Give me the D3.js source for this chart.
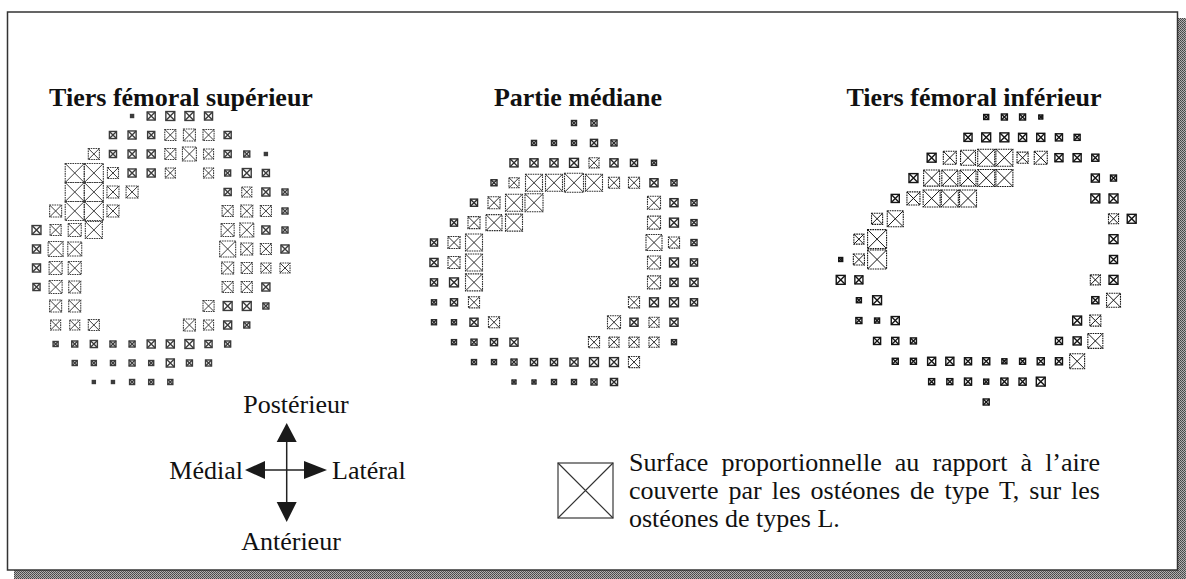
<!DOCTYPE html>
<html>
<head>
<meta charset="utf-8">
<script src="https://cdn.jsdelivr.net/npm/d3@7"></script>
<style>
  body { margin: 0; background: #fff; }
  svg { display: block; }
  text { font-family: "Liberation Serif", "Times New Roman", serif; fill: #111; }
</style>
</head>
<body>
<script>
var titles = ["Tiers fémoral supérieur", "Partie médiane", "Tiers fémoral inférieur"];

// [ligne, colonne, rapport aire T / aire L]
var superieur = [
  [0,5,.025],[0,6,.18],[0,7,.22],[0,8,.22],[0,9,.18],
  [1,4,.14],[1,5,.18],[1,6,.14],[1,7,.34],[1,8,.40],[1,9,.34],[1,10,.14],
  [2,3,.34],[2,4,.14],[2,5,.18],[2,6,.18],[2,7,.34],[2,8,.54],[2,9,.28],[2,10,.14],[2,11,.10],[2,12,.025],
  [3,2,1],[3,3,1],[3,4,.34],[3,5,.18],[3,6,.18],[3,7,.28],[3,9,.28],[3,10,.10],[3,11,.22],[3,12,.14],
  [4,2,1],[4,3,1],[4,4,.40],[4,5,.40],[4,10,.14],[4,11,.28],[4,12,.18],[4,13,.10],
  [5,1,.40],[5,2,1],[5,3,1],[5,4,.40],[5,10,.34],[5,11,.40],[5,12,.34],[5,13,.10],
  [6,0,.22],[6,1,.34],[6,2,.47],[6,3,.80],[6,10,.47],[6,11,.54],[6,12,.18],[6,13,.10],
  [7,0,.18],[7,1,.62],[7,2,.54],[7,10,.71],[7,11,.40],[7,12,.34],[7,13,.18],
  [8,0,.18],[8,1,.47],[8,2,.47],[8,10,.40],[8,11,.34],[8,12,.28],[8,13,.28],
  [9,0,.14],[9,1,.47],[9,2,.40],[9,10,.34],[9,11,.34],[9,12,.18],
  [10,1,.40],[10,2,.40],[10,9,.34],[10,10,.22],[10,11,.22],[10,12,.10],
  [11,1,.28],[11,2,.28],[11,3,.34],[11,8,.40],[11,9,.28],[11,10,.18],[11,11,.10],
  [12,1,.07],[12,2,.10],[12,3,.14],[12,4,.10],[12,5,.10],[12,6,.18],[12,7,.18],[12,8,.22],[12,9,.14],[12,10,.10],
  [13,2,.07],[13,3,.07],[13,4,.07],[13,5,.10],[13,6,.07],[13,7,.18],[13,8,.10],[13,9,.10],
  [14,3,.025],[14,4,.025],[14,5,.07],[14,6,.07],[14,7,.07]
];

var mediane = [
  [0,7,.07],[0,8,.10],
  [1,5,.07],[1,6,.07],[1,7,.07],[1,8,.14],[1,9,.10],
  [2,4,.18],[2,5,.18],[2,6,.18],[2,7,.22],[2,8,.28],[2,9,.18],[2,10,.14],[2,11,.07],
  [3,3,.10],[3,4,.28],[3,5,.80],[3,6,.80],[3,7,1],[3,8,.80],[3,9,.34],[3,10,.34],[3,11,.18],[3,12,.10],
  [4,2,.14],[4,3,.40],[4,4,.80],[4,5,.90],[4,11,.47],[4,12,.18],[4,13,.10],
  [5,1,.14],[5,2,.40],[5,3,.71],[5,4,.80],[5,11,.47],[5,12,.22],[5,13,.10],
  [6,0,.14],[6,1,.40],[6,2,.80],[6,11,.71],[6,12,.34],[6,13,.10],
  [7,0,.18],[7,1,.40],[7,2,.80],[7,11,.47],[7,12,.22],[7,13,.14],
  [8,0,.14],[8,1,.22],[8,2,.80],[8,11,.47],[8,12,.18],[8,13,.18],
  [9,0,.07],[9,1,.14],[9,2,.34],[9,10,.34],[9,11,.22],[9,12,.22],[9,13,.14],
  [10,0,.07],[10,1,.07],[10,2,.18],[10,3,.34],[10,9,.47],[10,10,.18],[10,11,.28],[10,12,.18],
  [11,1,.07],[11,2,.10],[11,3,.14],[11,4,.18],[11,8,.34],[11,9,.28],[11,10,.28],[11,11,.28],[11,12,.07],
  [12,2,.07],[12,3,.07],[12,4,.10],[12,5,.14],[12,6,.14],[12,7,.18],[12,8,.22],[12,9,.22],[12,10,.34],
  [13,4,.044],[13,5,.044],[13,6,.07],[13,7,.07],[13,8,.10],[13,9,.14]
];

var inferieur = [
  [0,8,.07],[0,9,.10],[0,10,.10],[0,11,.044],
  [1,7,.18],[1,8,.22],[1,9,.22],[1,10,.18],[1,11,.18],[1,12,.14],[1,13,.10],
  [2,5,.22],[2,6,.47],[2,7,.62],[2,8,.80],[2,9,.80],[2,10,.34],[2,11,.47],[2,12,.18],[2,13,.18],[2,14,.14],
  [3,4,.22],[3,5,.71],[3,6,.71],[3,7,.71],[3,8,.80],[3,9,.80],[3,14,.18],[3,15,.10],
  [4,3,.18],[4,4,.47],[4,5,.80],[4,6,.80],[4,7,.80],[4,14,.22],[4,15,.22],
  [5,2,.34],[5,3,.71],[5,15,.28],[5,16,.22],
  [6,1,.28],[6,2,1],[6,15,.22],
  [7,0,.044],[7,1,.34],[7,2,1],[7,15,.18],
  [8,0,.22],[8,1,.18],[8,14,.28],[8,15,.22],
  [9,1,.07],[9,2,.22],[9,14,.14],[9,15,.54],
  [10,1,.10],[10,2,.07],[10,3,.18],[10,13,.22],[10,14,.34],
  [11,2,.14],[11,3,.14],[11,4,.10],[11,12,.14],[11,13,.18],[11,14,.62],
  [12,3,.10],[12,4,.10],[12,5,.18],[12,6,.18],[12,7,.14],[12,8,.14],[12,9,.07],[12,10,.10],[12,11,.14],[12,12,.14],[12,13,.62],
  [13,5,.10],[13,6,.10],[13,7,.14],[13,8,.07],[13,9,.14],[13,10,.14],[13,11,.22],
  [14,8,.10]
];

var directions = ["Postérieur", "Médial", "Latéral", "Antérieur"];
var legendLines = [
  "Surface proportionnelle au rapport à l’aire",
  "couverte par les ostéones de type T, sur les",
  "ostéones de types L."
];

var width = 1186, height = 579;

var svg = d3.select("body").append("svg")
  .attr("width", width)
  .attr("height", height);

// trame grise de l'ombre du cadre
var pat = svg.append("defs").append("pattern")
  .attr("id", "trame").attr("width", 2).attr("height", 2)
  .attr("patternUnits", "userSpaceOnUse");
pat.append("rect").attr("width", 2).attr("height", 2).attr("fill", "#b0b0b0");
pat.append("rect").attr("width", 1).attr("height", 1).attr("fill", "#444");
pat.append("rect").attr("x", 1).attr("y", 1).attr("width", 1).attr("height", 1).attr("fill", "#555");

// cadre + ombre
svg.append("rect").attr("x", 14).attr("y", 570).attr("width", 1172).attr("height", 9).attr("fill", "url(#trame)");
svg.append("rect").attr("x", 1178).attr("y", 18).attr("width", 8).attr("height", 561).attr("fill", "url(#trame)");
svg.append("rect")
  .attr("x", 7.5).attr("y", 12).attr("width", 1170).attr("height", 558)
  .attr("fill", "#fff").attr("stroke", "#333").attr("stroke-width", 1.5);

// taille du carré : surface proportionnelle au rapport
var size = d3.scaleSqrt().domain([0, 1]).range([0, 19]);

var panels = [
  { data: superieur, cols: 13, rows: 14, x: [36.5, 285], y: [116, 382], tx: 181, color: "#3c3c3c" },
  { data: mediane,   cols: 13, rows: 13, x: [434, 694],  y: [123, 382], tx: 578, color: "#2c2c2c" },
  { data: inferieur, cols: 16, rows: 14, x: [840.7, 1131.7], y: [117, 402], tx: 974, color: "#151515" }
];

function drawCross(sel, s, color) {
  var h = s / 2;
  var small = s <= 9;
  sel.append("rect")
    .attr("x", -h).attr("y", -h).attr("width", s).attr("height", s)
    .attr("fill", "none").attr("stroke", color)
    .attr("stroke-width", small ? 1.4 : 1.1)
    .attr("stroke-dasharray", small ? null : "1.6,0.8");
  sel.append("path")
    .attr("d", "M" + (-h) + "," + (-h) + "L" + h + "," + h + "M" + h + "," + (-h) + "L" + (-h) + "," + h)
    .attr("stroke", color).attr("stroke-width", small ? 1.4 : 1);
}

panels.forEach(function(p, i) {
  var x = d3.scaleLinear().domain([0, p.cols]).range(p.x);
  var y = d3.scaleLinear().domain([0, p.rows]).range(p.y);
  var g = svg.append("g");

  g.append("text")
    .attr("x", p.tx).attr("y", 106)
    .attr("text-anchor", "middle")
    .attr("font-size", 26).attr("font-weight", "bold")
    .text(titles[i]);

  g.selectAll("g.cell")
    .data(p.data)
    .enter().append("g")
    .attr("class", "cell")
    .attr("transform", function(d) { return "translate(" + x(d[1]) + "," + y(d[0]) + ")"; })
    .each(function(d) { drawCross(d3.select(this), size(d[2]), p.color); });
});

// rose des directions
var cx = 286.7, cy = 470;
var compass = svg.append("g");
compass.append("line").attr("x1", cx).attr("x2", cx).attr("y1", 440).attr("y2", 503)
  .attr("stroke", "#222").attr("stroke-width", 1.5);
compass.append("line").attr("x1", 263).attr("x2", 305).attr("y1", cy).attr("y2", cy)
  .attr("stroke", "#222").attr("stroke-width", 1.5);
var heads = [
  [[cx, 423], [cx - 10, 442], [cx + 10, 442]],
  [[cx, 522], [cx - 10, 502], [cx + 10, 502]],
  [[245, cy], [265, cy - 9], [265, cy + 9]],
  [[327, cy], [304, cy - 9], [304, cy + 9]]
];
compass.selectAll("path")
  .data(heads)
  .enter().append("path")
  .attr("d", function(d) { return d3.line()(d) + "Z"; })
  .attr("fill", "#1a1a1a");

compass.append("text").attr("x", 296).attr("y", 413).attr("text-anchor", "middle")
  .attr("font-size", 26).text(directions[0]);
compass.append("text").attr("x", 243).attr("y", 479).attr("text-anchor", "end")
  .attr("font-size", 26).text(directions[1]);
compass.append("text").attr("x", 332).attr("y", 479)
  .attr("font-size", 26).text(directions[2]);
compass.append("text").attr("x", 291).attr("y", 550).attr("text-anchor", "middle")
  .attr("font-size", 26).text(directions[3]);

// légende
var legend = svg.append("g").attr("transform", "translate(558,463)");
drawCross(legend.append("g").attr("transform", "translate(27.5,27.5)"), 55, "#333");
legend.select("rect").attr("stroke-dasharray", null).attr("stroke-width", 1.4).attr("stroke", "#555");
legend.select("path").attr("stroke-width", 1.2);

var lx = 629, lr = 1100;
legendLines.forEach(function(line, i) {
  var t = svg.append("text")
    .attr("x", lx).attr("y", 471 + i * 28)
    .attr("font-size", 26)
    .text(line);
  if (i < legendLines.length - 1) {
    var natural = t.node().getComputedTextLength();
    var spaces = line.split(" ").length - 1;
    t.style("word-spacing", ((lr - lx - natural) / spaces) + "px");
  }
});
</script>
</body>
</html>
